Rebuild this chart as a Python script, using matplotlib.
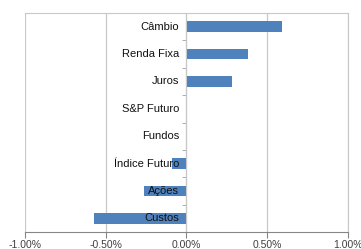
import matplotlib
matplotlib.use("Agg")
import matplotlib.pyplot as plt
import numpy as np
from matplotlib.ticker import FuncFormatter

plt.rcParams['font.family'] = ['Liberation Sans', 'DejaVu Sans']

# data
categories = ['Câmbio', 'Renda Fixa', 'Juros', 'S&P Futuro', 'Fundos',
              'Índice Futuro', 'Ações', 'Custos']
values = [0.59, 0.38, 0.28, 0.0, 0.0, -0.09, -0.26, -0.57]
xticks = [-1.0, -0.5, 0.0, 0.5, 1.0]

fig = plt.figure(figsize=(3.61, 2.49), dpi=100)
ax = fig.add_axes([0.069, 0.068, 0.895, 0.88])

y = np.arange(len(categories))
ax.barh(y, values, height=0.38, color='#4f81bd', zorder=1)

ax.set_xlim(-1.0, 1.0)
ax.set_ylim(len(categories) - 0.5, -0.5)
ax.set_xticks(xticks)
ax.xaxis.set_major_formatter(FuncFormatter(lambda v, p: f'{v:.2f}%'))
ax.tick_params(axis='x', length=4, color='#868686', labelsize=7.5,
               labelcolor='#404040', pad=1.5)
ax.grid(axis='x', color='#c8c8c8', linewidth=0.9)
ax.set_axisbelow(True)

# zero line carries the small category ticks
ax.spines['left'].set_position(('data', 0))
ax.spines['left'].set_color('#c8c8c8')
ax.set_yticks(y)
ax.set_yticklabels([])
ax.set_yticks(np.arange(len(categories) - 1) + 0.5, minor=True)
ax.tick_params(axis='y', which='major', length=0)
ax.tick_params(axis='y', which='minor', length=3, color='#a0a0a0')

# category labels drawn on top of the bars
for yi, name in zip(y, categories):
    ax.text(-0.045, yi, name, ha='right', va='center', fontsize=8,
            color='#111111', zorder=3)

for s in ['top', 'right']:
    ax.spines[s].set_color('#c8c8c8')
ax.spines['bottom'].set_color('#868686')

fig.savefig('out.png', dpi=100)
